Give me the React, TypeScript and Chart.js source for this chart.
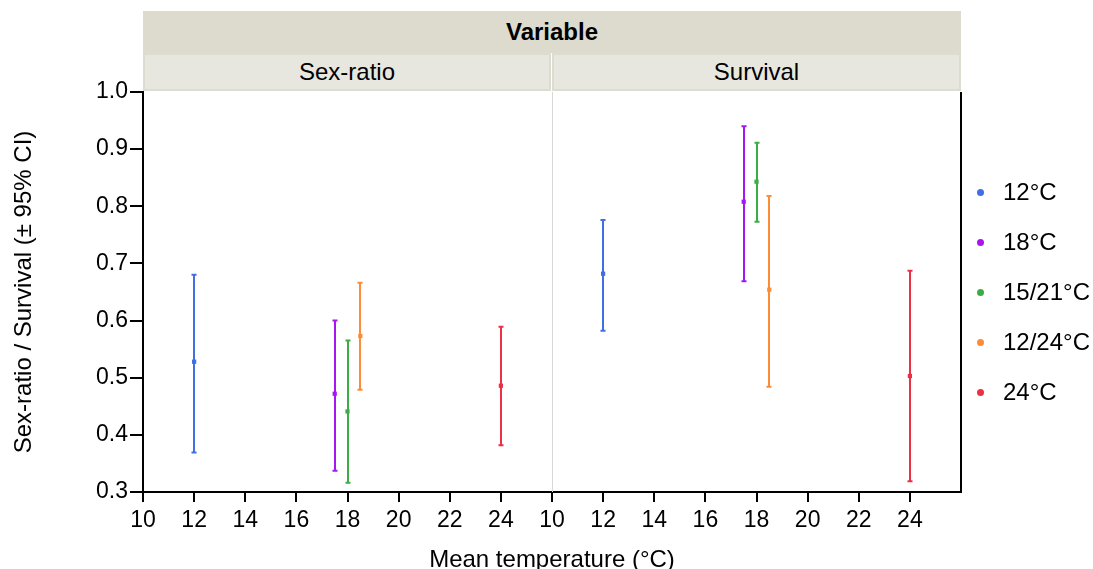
import React, { useEffect, useRef } from "react";
import { Chart, registerables } from "chart.js";

Chart.register(...registerables);

const groups = ["12°C", "18°C", "15/21°C", "12/24°C", "24°C"];
const groupColors = ["#3f6fe2", "#a716f2", "#3aae45", "#fd8c36", "#ec3045"];
const meanTemp = [12, 17.5, 18, 18.5, 24];

const sexRatioMean = [0.528, 0.472, 0.441, 0.573, 0.486];
const sexRatioLow = [0.369, 0.337, 0.316, 0.479, 0.382];
const sexRatioHigh = [0.68, 0.6, 0.565, 0.666, 0.589];

const survivalMean = [0.682, 0.808, 0.843, 0.654, 0.503];
const survivalLow = [0.582, 0.669, 0.773, 0.484, 0.319];
const survivalHigh = [0.776, 0.94, 0.911, 0.818, 0.687];

const panels = ["Sex-ratio", "Survival"];
const xTickLabels = [10, 12, 14, 16, 18, 20, 22, 24];
const yTickLabels = [0.3, 0.4, 0.5, 0.6, 0.7, 0.8, 0.9, 1.0];
const xMinPanel = 10;
const xMaxPanel = 26;
const PANEL_SPAN = xMaxPanel - xMinPanel;

const FONT = "'Liberation Sans', Arial, Helvetica, sans-serif";

const errorBarPlugin = {
  id: "errorBars",
  beforeDatasetsDraw(chart: any) {
    const { ctx, chartArea, scales } = chart;
    const xs = scales.x;
    const ys = scales.y;
    const sepX = xs.getPixelForValue(xMaxPanel);
    ctx.save();
    ctx.strokeStyle = "#d8d8d8";
    ctx.lineWidth = 1;
    ctx.beginPath();
    ctx.moveTo(Math.round(sepX) + 0.5, chartArea.top);
    ctx.lineTo(Math.round(sepX) + 0.5, chartArea.bottom);
    ctx.stroke();

    chart.data.datasets.forEach((ds: any) => {
      ctx.strokeStyle = ds.borderColor;
      ctx.lineWidth = 2;
      ds.data.forEach((p: any) => {
        const x = Math.round(xs.getPixelForValue(p.x));
        const yl = ys.getPixelForValue(p.low);
        const yh = ys.getPixelForValue(p.high);
        ctx.beginPath();
        ctx.moveTo(x, yl);
        ctx.lineTo(x, yh);
        ctx.moveTo(x - 2.5, yl);
        ctx.lineTo(x + 2.5, yl);
        ctx.moveTo(x - 2.5, yh);
        ctx.lineTo(x + 2.5, yh);
        ctx.stroke();
      });
    });
    ctx.restore();
  },
  afterDatasetsDraw(chart: any) {
    const { ctx, chartArea } = chart;
    ctx.save();
    ctx.strokeStyle = "#000";
    ctx.lineWidth = 2;
    ctx.beginPath();
    ctx.moveTo(chartArea.right, chartArea.top);
    ctx.lineTo(chartArea.right, chartArea.bottom + 1);
    ctx.stroke();
    ctx.restore();
  },
};

export default function App() {
  const canvasRef = useRef<HTMLCanvasElement | null>(null);

  useEffect(() => {
    document.body.style.margin = "0";
    const datasets = groups.map((g, i) => ({
      label: g,
      borderColor: groupColors[i],
      backgroundColor: groupColors[i],
      pointStyle: "rect",
      pointRadius: 3,
      pointBorderWidth: 0,
      data: [
        { x: meanTemp[i], y: sexRatioMean[i], low: sexRatioLow[i], high: sexRatioHigh[i] },
        {
          x: meanTemp[i] + PANEL_SPAN,
          y: survivalMean[i],
          low: survivalLow[i],
          high: survivalHigh[i],
        },
      ],
    }));

    const chart = new Chart(canvasRef.current as HTMLCanvasElement, {
      type: "scatter",
      data: { datasets } as any,
      plugins: [errorBarPlugin],
      options: {
        animation: false,
        responsive: false,
        layout: { padding: { top: 92, right: 132, left: 0, bottom: 0 } },
        plugins: { legend: { display: false }, tooltip: { enabled: false } },
        scales: {
          x: {
            type: "linear",
            min: xMinPanel,
            max: xMinPanel + 2 * PANEL_SPAN,
            afterBuildTicks: (scale: any) => {
              const vals = [
                ...xTickLabels,
                ...xTickLabels.map((v) => v + PANEL_SPAN),
              ];
              scale.ticks = vals.map((v) => ({ value: v }));
            },
            afterFit: (scale: any) => {
              scale.height = 77;
            },
            ticks: {
              autoSkip: false,
              maxRotation: 0,
              color: "#000",
              padding: 5,
              font: { family: FONT, size: 23 },
              callback: (v: any) => String(v >= xMaxPanel ? v - PANEL_SPAN : v),
            },
            grid: {
              drawOnChartArea: false,
              color: "#000",
              lineWidth: 2,
              tickLength: 10,
            },
            border: { color: "#000", width: 2 },
            title: {
              display: true,
              text: "Mean temperature (°C)",
              color: "#000",
              font: { family: FONT, size: 24 },
              padding: { top: 0, bottom: -6 },
            },
          },
          y: {
            type: "linear",
            min: 0.3,
            max: 1.0,
            afterBuildTicks: (scale: any) => {
              scale.ticks = yTickLabels.map((v) => ({ value: v }));
            },
            afterFit: (scale: any) => {
              scale.width = 143;
            },
            ticks: {
              color: "#000",
              padding: 2,
              font: { family: FONT, size: 23 },
              callback: (v: any) => Number(v).toFixed(1),
            },
            grid: {
              drawOnChartArea: false,
              color: "#000",
              lineWidth: 2,
              tickLength: 13,
            },
            border: { color: "#000", width: 2 },
            title: {
              display: true,
              text: "Sex-ratio / Survival (± 95% CI)",
              color: "#000",
              font: { family: FONT, size: 24 },
              padding: { top: 10, bottom: 0 },
            },
          },
        },
      } as any,
    });
    return () => chart.destroy();
  }, []);

  const stripText: React.CSSProperties = {
    position: "absolute",
    display: "flex",
    alignItems: "center",
    justifyContent: "center",
    fontFamily: FONT,
    fontSize: 24,
    color: "#000",
    boxSizing: "border-box",
  };

  return (
    <div style={{ position: "absolute", left: 0, top: 0, width: 1093, height: 569, background: "#fff", overflow: "hidden" }}>
      <canvas ref={canvasRef} width={1093} height={569} style={{ position: "absolute", left: 0, top: 0 }} />
      <div
        style={{
          ...stripText,
          left: 143,
          top: 11,
          width: 818,
          height: 42,
          background: "#dcdbcd",
          fontWeight: "bold",
        }}
      >
        Variable
      </div>
      {panels.map((p, i) => (
        <div
          key={p}
          style={{
            ...stripText,
            left: i === 0 ? 143 : 552,
            top: 53,
            width: i === 0 ? 408 : 409,
            height: 38,
            background: "#e7e7df",
            border: "2px solid #dddcd0",
          }}
        >
          {p}
        </div>
      ))}
      {groups.map((g, i) => (
        <div
          key={g}
          style={{
            position: "absolute",
            left: 977,
            top: 192 + i * 50 - 15,
            height: 30,
            display: "flex",
            alignItems: "center",
            fontFamily: FONT,
            fontSize: 24,
            color: "#000",
            whiteSpace: "nowrap",
          }}
        >
          <span
            style={{
              display: "inline-block",
              width: 7,
              height: 7,
              borderRadius: "50%",
              background: groupColors[i],
              marginRight: 19,
            }}
          />
          {g}
        </div>
      ))}
    </div>
  );
}
